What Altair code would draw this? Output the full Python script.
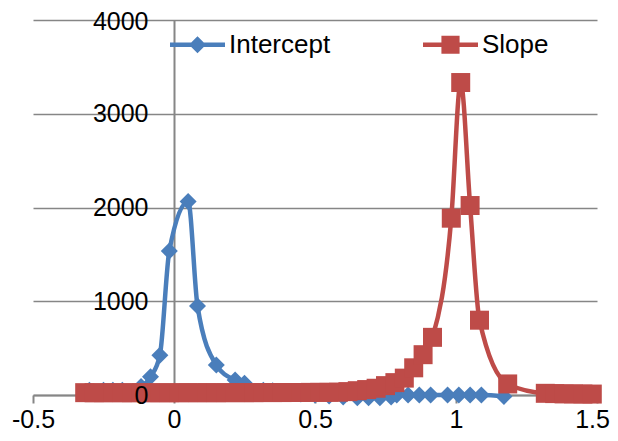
import altair as alt
import pandas as pd

# ---- data ----
series_names = ["Intercept", "Slope"]
x_ticks = [-0.5, 0, 0.5, 1, 1.5]
y_ticks = [0, 1000, 2000, 3000, 4000]

intercept_x = [-0.3, -0.25, -0.2167, -0.1833, -0.1167, -0.0833, -0.05, -0.0167,
               0.05, 0.0833, 0.15, 0.2167, 0.25, 0.3167, 0.35, 0.4, 0.45, 0.5,
               0.55, 0.6, 0.65, 0.69, 0.73, 0.77, 0.79, 0.83, 0.87, 0.91, 0.97,
               1.01, 1.05, 1.09, 1.17]
intercept_y = [50, 50, 50, 50, 90, 195, 425, 1535,
               2065, 950, 320, 160, 125, 50, 45, 20, 10, 0,
               -10, -20, -30, -30, -30, -20, 0, 0, 0, 0, 0,
               0, 0, 0, -15]

slope_x = [-0.3167, -0.2833, -0.25, -0.2167, -0.1833, -0.15, -0.1167, -0.0833,
           -0.05, -0.0167, 0.0167, 0.05, 0.0833, 0.1167, 0.15, 0.1833, 0.2167,
           0.25, 0.2833, 0.3167, 0.35, 0.3833, 0.4167, 0.45, 0.4833, 0.5167,
           0.55, 0.5833, 0.6167, 0.65, 0.6833, 0.7167, 0.75, 0.7833, 0.8167,
           0.85, 0.8833, 0.9167, 0.9833, 1.0167, 1.05, 1.0833, 1.1833, 1.3167,
           1.35, 1.3833, 1.4167, 1.45, 1.4833]
slope_y = [25, 24, 24, 25, 24, 24, 25, 24,
           24, 24, 24, 25, 24, 25, 24, 25, 25,
           25, 25, 26, 26, 26, 27, 27, 28, 28,
           29, 30, 36, 46, 58, 72, 100, 132, 180,
           290, 430, 615, 1886, 3333, 2021, 798, 118, 18,
           15, 12, 12, 10, 10]

BLUE = "#4A7EBB"
RED = "#BE4B48"
GRAY = "#868686"
FONT = "Liberation Sans"

# legend symbols: line segment + marker (custom paths in [-1, 1] box)
PATH_I = "M-1,-0.08H1V0.08H-1Z M0,-0.31L0.31,0L0,0.31L-0.31,0Z"
PATH_S = "M-1,-0.08H1V0.08H-1Z M-0.33,-0.33H0.33V0.33H-0.33Z"

df_i = pd.DataFrame({"x": intercept_x, "y": intercept_y})
df_s = pd.DataFrame({"x": slope_x, "y": slope_y})
df_leg = pd.DataFrame({"series": series_names})

y_scale = alt.Scale(domain=[0, 4000], nice=False)

x_enc = alt.X(
    "x:Q",
    scale=alt.Scale(domain=[-0.5, 1.5], nice=False, zero=False),
    axis=alt.Axis(
        values=x_ticks, grid=False, title=None,
        labelExpr="toString(datum.value)",
        tickSize=8, tickWidth=2, tickColor=GRAY,
        domainColor=GRAY, domainWidth=2,
        labelFont=FONT, labelFontSize=25, labelColor="black",
        labelPadding=4, labelFlush=False, labelOverlap=False,
        labelOffset={"condition": {"test": "datum.value == 1.5", "value": -5}, "value": 0},
    ),
)
# axis line + gridlines, behind the marks
y_enc_back = alt.Y(
    "y:Q", scale=y_scale,
    axis=alt.Axis(
        values=y_ticks, title=None, offset=-141, orient="left",
        labels=False, ticks=False,
        domainColor=GRAY, domainWidth=2,
        grid=True, gridColor=GRAY, gridWidth=1.5, zindex=0,
    ),
)
# labels only, in front of the marks
y_enc_front = alt.Y(
    "y:Q", scale=y_scale,
    axis=alt.Axis(
        values=y_ticks, title=None, offset=-141, orient="left",
        labelExpr="toString(datum.value)",
        ticks=False, domain=False, grid=False, labelPadding=26,
        labelFont=FONT, labelFontSize=25, labelColor="black",
        labelOverlap=False, zindex=1,
        labelOffset={"condition": {"test": "datum.value == 4000", "value": 1}, "value": 0},
    ),
)

line_i = alt.Chart(df_i).mark_line(
    color=BLUE, strokeWidth=4.5, interpolate="monotone",
    strokeCap="round", strokeJoin="round"
).encode(x=x_enc, y=y_enc_back)
pts_i = alt.Chart(df_i).mark_point(
    shape="diamond", filled=True, size=289, color=BLUE, opacity=1
).encode(x="x:Q", y=alt.Y("y:Q", axis=None))
line_s = alt.Chart(df_s).mark_line(
    color=RED, strokeWidth=4.5, interpolate="monotone",
    strokeCap="round", strokeJoin="round"
).encode(x="x:Q", y=alt.Y("y:Q", axis=None))
pts_s = alt.Chart(df_s).mark_point(
    shape="square", filled=True, size=361, color=RED, opacity=1
).encode(x="x:Q", y=y_enc_front)

leg = alt.Legend(
    orient="none", legendX=137, legendY=-3, direction="horizontal",
    title=None, symbolSize=3025, symbolStrokeWidth=0,
    labelFont=FONT, labelFontSize=26, labelColor="black",
    labelOffset=4, columnPadding=92, padding=0,
)
legend_layer = alt.Chart(df_leg).transform_filter("false").mark_point(
    filled=True, opacity=1
).encode(
    color=alt.Color("series:N", scale=alt.Scale(domain=series_names, range=[BLUE, RED]), legend=leg),
    shape=alt.Shape("series:N", scale=alt.Scale(domain=series_names, range=[PATH_I, PATH_S]), legend=leg),
)

chart = alt.layer(line_i, pts_i, line_s, pts_s, legend_layer).resolve_axis(
    y="independent"
).properties(
    width=564, height=375,
    padding={"left": 25, "top": 12, "right": 13, "bottom": 38},
    autosize=alt.AutoSizeParams(type="none"),
    background="white",
).configure_view(stroke=None)

chart.save("out.html", embed_options={"renderer": "svg", "actions": False})
